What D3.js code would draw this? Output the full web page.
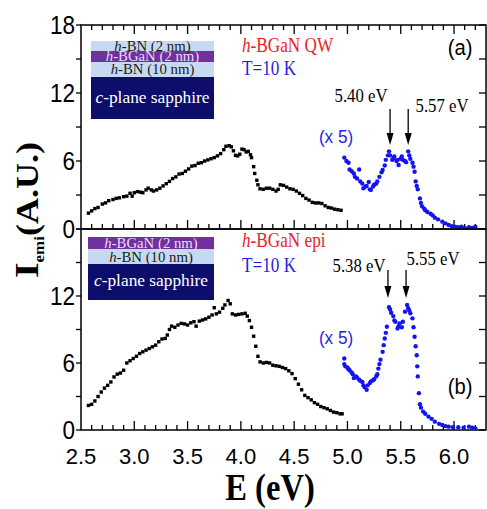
<!DOCTYPE html>
<html>
<head>
<meta charset="utf-8">
<script src="https://cdn.jsdelivr.net/npm/d3@7"></script>
<style>
  body { margin: 0; background: #fff; }
  svg { display: block; }
</style>
</head>
<body>
<div id="chart"></div>
<script>
// ---- data (E in eV, intensity in A.U.) ----
const qwBand = [[2.57,1.4],[2.60,1.6],[2.63,1.8],[2.66,1.9],[2.70,2.2],[2.73,2.3],[2.76,2.5],[2.80,2.6],
  [2.83,2.7],[2.86,2.75],[2.90,2.85],[2.93,2.9],[2.96,3.15],[2.98,2.9],[3.00,3.2],[3.03,3.3],[3.06,3.25],
  [3.08,3.2],[3.11,3.45],[3.13,3.6],[3.16,3.45],[3.18,3.35],[3.21,3.45],[3.24,3.6],[3.27,3.8],[3.30,4.0],
  [3.33,4.2],[3.36,4.45],[3.39,4.6],[3.42,4.85],[3.45,4.9],[3.48,5.1],[3.51,5.3],[3.54,5.55],[3.57,5.6],
  [3.60,5.8],[3.63,5.85],[3.66,6.0],[3.69,6.1],[3.72,6.2],[3.75,6.3],[3.78,6.45],[3.81,6.65],[3.84,7.0],
  [3.86,7.3],[3.89,7.35],[3.91,7.25],[3.93,6.9],[3.95,6.5],[3.97,6.45],[3.99,6.6],[4.01,7.05],[4.03,7.0],
  [4.05,6.8],[4.07,6.85],[4.09,6.55],[4.10,6.3],[4.12,5.5],[4.13,4.9],[4.15,4.3],[4.16,3.9],[4.18,3.55],
  [4.21,3.5],[4.24,3.6],[4.27,3.6],[4.30,3.5],[4.33,3.35],[4.35,3.5],[4.37,3.9],[4.40,3.85],[4.43,3.7],
  [4.46,3.55],[4.49,3.5],[4.52,3.35],[4.55,3.15],[4.58,2.95],[4.61,2.7],[4.64,2.55],[4.67,2.35],[4.70,2.3],
  [4.73,2.3],[4.76,2.25],[4.79,2.05],[4.82,1.9],[4.85,1.85],[4.88,1.75],[4.91,1.7],[4.94,1.65]];

const qwEdge = [[4.97,6.3],[4.99,6.0],[5.01,5.85],[5.02,5.25],[5.04,5.1],[5.06,4.9],[5.07,4.6],[5.09,4.45],
  [5.11,5.25],[5.12,4.2],[5.14,4.0],[5.15,3.6],[5.17,3.75],[5.18,3.8],[5.20,4.15],[5.21,3.5],[5.22,3.45],
  [5.24,3.75],[5.25,3.9],[5.27,4.0],[5.28,4.2],[5.30,4.6],[5.32,5.0],[5.33,5.2],[5.35,5.6],[5.36,6.1],
  [5.38,6.5],[5.39,6.85],[5.40,6.5],[5.42,6.1],[5.43,6.25],[5.44,6.4],[5.46,6.0],[5.47,6.1],[5.48,5.65],
  [5.50,6.2],[5.51,6.4],[5.52,6.1],[5.54,6.0],[5.55,5.9],[5.57,6.85],[5.58,6.5],[5.59,6.2],[5.61,5.85],
  [5.62,5.5],[5.63,5.05],[5.64,4.2],[5.65,3.8],[5.66,3.5],[5.68,2.7],[5.69,2.3],[5.70,2.0],[5.72,1.8],
  [5.73,1.65],[5.75,1.5],[5.78,1.35],[5.80,1.2],[5.82,1.0],[5.85,0.85],[5.89,0.65],[5.92,0.5],[5.95,0.35],
  [5.98,0.25],[6.01,0.2],[6.04,0.15],[6.07,0.2],[6.10,0.1],[6.14,0.15],[6.17,0.1],[6.20,0.2]];

const epiBand = [[2.57,2.2],[2.60,2.3],[2.63,2.6],[2.66,3.0],[2.69,3.4],[2.72,3.75],[2.75,4.0],[2.78,4.3],
  [2.81,4.75],[2.84,5.0],[2.87,5.1],[2.90,5.35],[2.93,6.0],[2.96,6.2],[2.99,6.4],[3.02,6.6],[3.05,6.85],
  [3.08,7.0],[3.11,7.15],[3.14,7.3],[3.17,7.45],[3.20,7.6],[3.23,7.9],[3.26,8.15],[3.29,8.2],[3.31,8.5],
  [3.33,9.0],[3.35,9.3],[3.38,9.2],[3.41,9.4],[3.44,9.55],[3.47,9.5],[3.50,9.4],[3.53,9.6],[3.56,9.7],
  [3.58,9.3],[3.61,9.75],[3.64,9.85],[3.67,9.95],[3.70,10.1],[3.73,10.3],[3.75,10.95],[3.77,10.4],
  [3.80,10.55],[3.83,10.9],[3.85,11.2],[3.88,11.6],[3.90,11.3],[3.92,10.4],[3.95,10.3],[3.98,10.35],
  [4.01,10.4],[4.04,10.45],[4.06,10.2],[4.08,9.8],[4.10,9.2],[4.12,8.4],[4.14,7.5],[4.16,6.6],[4.18,6.1],
  [4.21,6.0],[4.24,6.05],[4.27,6.0],[4.30,5.8],[4.33,5.75],[4.36,5.7],[4.39,5.6],[4.42,5.5],[4.45,5.3],
  [4.48,5.05],[4.51,4.6],[4.54,4.1],[4.57,3.6],[4.60,3.1],[4.63,2.9],[4.66,2.7],[4.69,2.45],[4.72,2.3],
  [4.75,2.1],[4.78,2.0],[4.81,1.9],[4.84,1.75],[4.87,1.6],[4.90,1.55],[4.93,1.45],[4.95,1.45]];

const epiEdge = [[4.97,6.4],[4.97,5.9],[4.98,5.7],[5.00,5.6],[5.01,5.45],[5.02,5.35],[5.04,5.15],[5.05,5.0],
  [5.06,4.65],[5.08,4.8],[5.09,4.7],[5.11,4.5],[5.12,4.4],[5.14,4.3],[5.15,4.0],[5.16,3.85],[5.18,3.6],
  [5.19,4.0],[5.21,4.2],[5.22,4.35],[5.24,4.45],[5.25,4.55],[5.27,4.8],[5.28,5.0],[5.29,5.5],[5.30,5.9],
  [5.31,6.3],[5.33,7.0],[5.34,7.6],[5.35,8.2],[5.36,8.7],[5.37,9.25],[5.39,11.0],[5.40,10.8],[5.41,10.5],
  [5.43,10.2],[5.44,9.8],[5.45,9.7],[5.47,9.1],[5.48,9.3],[5.49,9.55],[5.51,9.2],[5.52,9.7],[5.54,10.6],
  [5.56,11.2],[5.57,10.9],[5.58,10.7],[5.59,10.45],[5.61,10.0],[5.62,9.2],[5.63,8.35],[5.64,7.5],[5.65,6.7],
  [5.655,5.7],[5.66,4.8],[5.67,3.3],[5.68,2.3],[5.69,2.0],[5.71,1.65],[5.73,1.45],[5.76,1.2],[5.79,1.0],
  [5.82,0.75],[5.86,0.55],[5.89,0.45],[5.92,0.35],[5.95,0.3],[5.99,0.25],[6.04,0.25],[6.09,0.2],[6.14,0.3],
  [6.17,0.2],[6.20,0.15]];

const xTickLabels = ["2.5", "3.0", "3.5", "4.0", "4.5", "5.0", "5.5", "6.0"];
const peaksQW = [5.40, 5.57];
const peaksEpi = [5.38, 5.55];

// ---- layout ----
const width = 487, height = 509;
const left = 81, right = 486;
const panels = [
  { top: 25, bottom: 229, band: qwBand, edge: qwEdge, tag: "(a)", name: "QW", yLabels: [0, 6, 12, 18] },
  { top: 229, bottom: 430, band: epiBand, edge: epiEdge, tag: "(b)", name: "epi", yLabels: [0, 6, 12] }
];

const svg = d3.select("#chart").append("svg")
  .attr("width", width)
  .attr("height", height);

const x = d3.scaleLinear().domain([2.5, 6.3]).range([left, right]);

const RED = "#ec2226", BLUE = "#1f1fe6", DOTBLUE = "#1414f0";
const LIGHT = "#c6d9f0", PURPLE = "#7030a0", NAVY = "#0d0d6b";

// text with a slight horizontal squeeze like the source figure
function txt(parent, px, py, parts, o) {
  const t = parent.append("text")
    .attr("transform", `translate(${px},${py}) scale(${o.sx || 0.88},1)`)
    .attr("font-family", o.font || "Liberation Serif, Times New Roman, serif")
    .attr("font-size", o.size)
    .attr("font-weight", o.weight || null)
    .attr("text-anchor", o.anchor || "start")
    .attr("fill", o.fill || "#000");
  parts.forEach(p => {
    t.append("tspan").text(p[0]).attr("font-style", p[1] ? "italic" : null);
  });
  return t;
}

function arrow(parent, px, y0, y1) {
  parent.append("line")
    .attr("x1", px).attr("x2", px).attr("y1", y0).attr("y2", y1 - 10)
    .attr("stroke", "#000").attr("stroke-width", 1.3);
  parent.append("path")
    .attr("d", `M${px - 3.5},${y1 - 12} L${px + 3.5},${y1 - 12} L${px},${y1} Z`)
    .attr("fill", "#000");
}

panels.forEach((p, i) => {
  const y = d3.scaleLinear().domain([0, 18]).range([p.bottom, p.top]);
  const g = svg.append("g");

  // minor/major ticks along x (pointing into the plot)
  const xt = d3.range(26, 63).map(v => v / 10);
  const isMajor = d => Math.abs(d * 2 - Math.round(d * 2)) < 1e-6;
  g.selectAll(".xtb").data(xt).join("line")
    .attr("x1", d => x(d)).attr("x2", d => x(d))
    .attr("y1", p.bottom)
    .attr("y2", d => p.bottom - (isMajor(d) ? 9 : 5))
    .attr("stroke", "#000").attr("stroke-width", 1.3);
  if (i === 0) {
    g.selectAll(".xtt").data(xt).join("line")
      .attr("x1", d => x(d)).attr("x2", d => x(d))
      .attr("y1", p.top)
      .attr("y2", d => p.top + (isMajor(d) ? 9 : 5))
      .attr("stroke", "#000").attr("stroke-width", 1.3);
  }

  // y ticks every 3
  const yt = d3.range(0, 19, 3);
  g.selectAll(".ytl").data(yt).join("line")
    .attr("x1", left - 5).attr("x2", left)
    .attr("y1", d => y(d)).attr("y2", d => y(d))
    .attr("stroke", "#000").attr("stroke-width", 1.3);
  g.selectAll(".ytr").data(yt).join("line")
    .attr("x1", right - 7).attr("x2", right)
    .attr("y1", d => y(d)).attr("y2", d => y(d))
    .attr("stroke", "#000").attr("stroke-width", 1.3);

  // frame
  g.append("rect")
    .attr("x", left).attr("y", p.top)
    .attr("width", right - left).attr("height", p.bottom - p.top)
    .attr("fill", "none").attr("stroke", "#000").attr("stroke-width", 1.5);

  // y tick labels
  p.yLabels.forEach(v => {
    txt(svg, 75, y(v) + 9, [[String(v)]], { font: "Liberation Sans, Arial, sans-serif", size: 25, anchor: "end", sx: 0.9 });
  });

  // data: broad band (black) and band edge x5 (blue)
  g.selectAll(".band").data(p.band).join("rect")
    .attr("x", d => x(d[0]) - 1.7).attr("y", d => y(d[1]) - 1.7)
    .attr("width", 3.4).attr("height", 3.4)
    .attr("fill", "#000");
  g.selectAll(".edge").data(p.edge).join("circle")
    .attr("cx", d => x(d[0])).attr("cy", d => y(d[1]))
    .attr("r", 2.2)
    .attr("fill", DOTBLUE);

  // panel tag
  txt(svg, 460, i === 0 ? 55 : 394, [[p.tag]], { font: "Liberation Sans, Arial, sans-serif", size: 22, anchor: "middle", sx: 0.92 });

  // sample / temperature labels
  txt(svg, 242, i === 0 ? 52 : 247, [["h", true], ["-BGaN " + p.name]], { size: 20, fill: RED, sx: 0.86 });
  txt(svg, 242, i === 0 ? 75 : 272, [["T=10 K"]], { size: 20, fill: BLUE, sx: 0.86 });

  // (x 5)
  txt(svg, 336, i === 0 ? 143 : 344, [["(x 5)"]], { font: "Liberation Sans, Arial, sans-serif", size: 19, anchor: "middle", fill: BLUE, sx: 0.9 });
});

// peak arrows and labels
arrow(svg, x(peaksQW[0]), 109, 145);
arrow(svg, x(peaksQW[1]), 109, 145);
txt(svg, 361, 102, [["5.40 eV"]], { size: 19, anchor: "middle", sx: 0.88 });
txt(svg, 442, 112, [["5.57 eV"]], { size: 19, anchor: "middle", sx: 0.88 });
arrow(svg, x(peaksEpi[0]), 270, 298);
arrow(svg, x(peaksEpi[1]), 270, 298);
txt(svg, 359, 272, [["5.38 eV"]], { size: 19, anchor: "middle", sx: 0.88 });
txt(svg, 433, 265, [["5.55 eV"]], { size: 19, anchor: "middle", sx: 0.88 });

// layer-stack insets
function stack(x0, x1, layers) {
  layers.forEach(l => {
    svg.append("rect").attr("x", x0).attr("y", l.y0).attr("width", x1 - x0).attr("height", l.y1 - l.y0).attr("fill", l.fill);
  });
  layers.forEach(l => {
    txt(svg, (x0 + x1) / 2, l.base, l.text, { size: l.size || 14.5, anchor: "middle", fill: l.color || "#1a1a1a", sx: 1.02 });
  });
}
stack(91, 214, [
  { y0: 41, y1: 51, fill: LIGHT, base: 50.5, text: [["h", true], ["-BN (2 nm)"]] },
  { y0: 51, y1: 62, fill: PURPLE, base: 61, text: [["h", true], ["-BGaN (2 nm)"]], color: "#eadcf5" },
  { y0: 62, y1: 77, fill: LIGHT, base: 74, text: [["h", true], ["-BN (10 nm)"]] },
  { y0: 77, y1: 119, fill: NAVY, base: 103, text: [["c", true], ["-plane sapphire"]], color: "#fff", size: 17 }
]);
stack(88, 214, [
  { y0: 237, y1: 249, fill: PURPLE, base: 247.5, text: [["h", true], ["-BGaN (2 nm)"]], color: "#eadcf5" },
  { y0: 249, y1: 264, fill: LIGHT, base: 261.5, text: [["h", true], ["-BN (10 nm)"]] },
  { y0: 264, y1: 300, fill: NAVY, base: 286, text: [["c", true], ["-plane sapphire"]], color: "#fff", size: 17 }
]);

// x tick labels
xTickLabels.forEach(s => {
  txt(svg, x(+s), 464, [[s]], { font: "Liberation Sans, Arial, sans-serif", size: 22, anchor: "middle", sx: 1 });
});

// axis titles
txt(svg, 270, 500, [["E (eV)"]], { size: 37, weight: "bold", anchor: "middle", sx: 0.88 });

const yt = svg.append("text")
  .attr("transform", "translate(38,278) scale(0.86,1) rotate(-90)")
  .attr("font-family", "Liberation Serif, Times New Roman, serif")
  .attr("font-weight", "bold")
  .attr("fill", "#000");
yt.append("tspan").attr("font-size", 40).text("I");
yt.append("tspan").attr("font-size", 17).attr("dy", 7).text("emi");
yt.append("tspan").attr("font-size", 36).attr("dy", -7).text("(A.U.)");
</script>
</body>
</html>
